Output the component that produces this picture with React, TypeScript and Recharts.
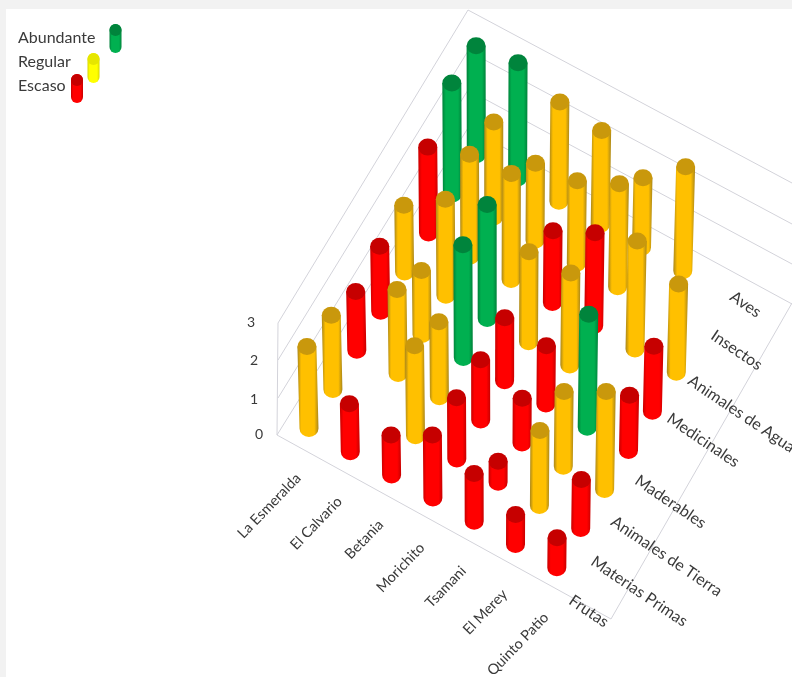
import { ScatterChart, Scatter, XAxis, YAxis, ReferenceLine } from 'recharts';

const WIDTH = 792;
const HEIGHT = 677;

const categories = ['La Esmeralda', 'El Calvario', 'Betania', 'Morichito', 'Tsamani', 'El Merey', 'Quinto Patio'];
const seriesNames = ['Frutas', 'Materias Primas', 'Animales de Tierra', 'Maderables', 'Medicinales', 'Animales de Agua', 'Insectos', 'Aves'];
const valueTicks = ['0', '1', '2', '3'];

// heights per community, null = no column
const frutas = [2.16, 1.26, 1.05, 1.66, 1.26, 0.79, 0.79];
const materiasPrimas = [1.95, null, 2.37, 1.61, 0.55, 1.97, 1.29];
const animalesTierra = [1.55, 2.21, 1.97, 1.58, 1.18, 1.97, 2.58];
const maderables = [1.71, 1.68, 2.97, 1.66, 1.53, 2.97, 1.45];
const medicinales = [1.76, 2.53, 3.0, 2.37, 2.42, null, 1.71];
const animalesAgua = [2.26, 2.68, 2.79, 1.89, 2.45, 2.84, 2.32];
const insectos = [2.92, 2.5, 2.03, 2.18, 2.71, null, null];
const aves = [2.87, 3.03, 2.61, 2.47, 1.84, 2.74, null];
const seriesValues = [frutas, materiasPrimas, animalesTierra, maderables, medicinales, animalesAgua, insectos, aves];

// A = Abundante, R = Regular, E = Escaso
const frutasNivel = ['R', 'E', 'E', 'E', 'E', 'E', 'E'];
const materiasNivel = ['R', '', 'R', 'E', 'E', 'R', 'E'];
const tierraNivel = ['E', 'R', 'R', 'E', 'E', 'R', 'R'];
const maderablesNivel = ['E', 'R', 'A', 'E', 'E', 'A', 'E'];
const medicinalesNivel = ['R', 'R', 'A', 'R', 'R', '', 'E'];
const aguaNivel = ['E', 'R', 'R', 'E', 'E', 'R', 'R'];
const insectosNivel = ['A', 'R', 'R', 'R', 'R', '', ''];
const avesNivel = ['A', 'A', 'R', 'R', 'R', 'R', ''];
const seriesLevels = [frutasNivel, materiasNivel, tierraNivel, maderablesNivel, medicinalesNivel, aguaNivel, insectosNivel, avesNivel];

const legendLabels = ['Abundante', 'Regular', 'Escaso'];

const colors: Record<string, { body: string; edge: string; cap: string }> = {
  A: { body: '#00b050', edge: '#00813a', cap: '#00843c' },
  R: { body: '#ffc000', edge: '#a9861a', cap: '#c9980c' },
  E: { body: '#ff0000', edge: '#c80000', cap: '#c60000' },
  Y: { body: '#ffff00', edge: '#d6d600', cap: '#e6e600' },
};

// oblique floor projection
const ORIGIN = { x: 309, y: 428.5 };
const STEP_CAT = { x: 41.3, y: 23.2 };
const STEP_SER = { x: 23.9, y: -39.1 };
const UNIT = 38;
const RX = 9.5;
const RY = 8.5;

const project = (i: number, j: number) => ({
  x: ORIGIN.x + STEP_CAT.x * i + STEP_SER.x * j,
  y: ORIGIN.y + STEP_CAT.y * i + STEP_SER.y * j,
});

const columns = seriesValues
  .flatMap((vals, j) =>
    vals.map((value, i) => (value == null ? null : { ...project(i, j), value, level: seriesLevels[j][i] })),
  )
  .filter((d) => d !== null)
  .sort((a: any, b: any) => a.y - b.y);

function Cylinder(props: any) {
  const { cx, cy, payload } = props;
  const h = payload.value * UNIT;
  const lean = (cx - 490) * 0.00014 * h;
  const tx = cx + lean;
  const ty = cy - h;
  const c = colors[payload.level];
  const body = `M${tx - RX},${ty} L${cx - RX},${cy} A${RX},${RY} 0 0 0 ${cx + RX},${cy} L${tx + RX},${ty} Z`;
  return (
    <g>
      <path d={body} fill={`url(#grad${payload.level})`} />
      <ellipse cx={tx} cy={ty} rx={RX} ry={RY} fill={c.cap} />
    </g>
  );
}

function SmallCylinder(props: any) {
  const { cx, cy, payload } = props;
  const c = colors[payload.level];
  const r = payload.r;
  const h = payload.h;
  return (
    <g>
      <rect x={cx - r} y={cy - h / 2} width={r * 2} height={h} rx={r} fill={`url(#grad${payload.level})`} />
      <ellipse cx={cx} cy={cy - h / 2 + r} rx={r} ry={r} fill={c.cap} />
    </g>
  );
}

function Label(props: any) {
  const { cx, cy, payload } = props;
  return (
    <text
      x={cx}
      y={cy}
      transform={payload.angle ? `rotate(${payload.angle} ${cx} ${cy})` : undefined}
      textAnchor={payload.anchor}
      dominantBaseline="middle"
      fontFamily="Lato, sans-serif"
      fontSize={payload.size}
      fill="#3a3a3a"
    >
      {payload.text}
    </text>
  );
}

// hand placed in the original, so kept as offsets from the floor row
const seriesLabelStarts = [
  { x: 570, y: 600 },
  { x: 592, y: 561 },
  { x: 612, y: 521 },
  { x: 636, y: 480 },
  { x: 668, y: 418 },
  { x: 689, y: 380 },
  { x: 712, y: 335 },
  { x: 731, y: 296 },
];
const valueLabelPos = [
  { x: 263, y: 435 },
  { x: 258, y: 400 },
  { x: 258, y: 361 },
  { x: 255, y: 323 },
];

const textMarks = [
  ...categories.map((text, i) => {
    const p = project(i, 0);
    return { x: p.x - 10, y: p.y + 48, text, anchor: 'end', angle: -46, size: 14.5 };
  }),
  ...seriesNames.map((text, j) => ({ ...seriesLabelStarts[j], text, anchor: 'start', angle: 34, size: 16 })),
  ...valueTicks.map((text, k) => ({ ...valueLabelPos[k], text, anchor: 'end', angle: 0, size: 14 })),
  { x: 18, y: 39, text: legendLabels[0], anchor: 'start', angle: 0, size: 16 },
  { x: 18, y: 63, text: legendLabels[1], anchor: 'start', angle: 0, size: 16 },
  { x: 18, y: 87, text: legendLabels[2], anchor: 'start', angle: 0, size: 16 },
];

const legendMarks = [
  { x: 115.5, y: 38.5, level: 'A', r: 6, h: 29 },
  { x: 93.5, y: 68, level: 'Y', r: 6, h: 30 },
  { x: 77, y: 88.5, level: 'E', r: 6, h: 29 },
];

// wall and floor frame
const frameLines: [number, number, number, number][] = [
  [278, 323, 468, 10],
  [278, 360, 468, 51],
  [278, 398, 468, 90],
  [277, 435, 468, 128],
  [468, 10, 792, 183],
  [468, 51, 792, 224],
  [468, 90, 792, 264],
  [468, 128, 792, 304],
  [278, 323, 277, 435],
  [277, 435, 611, 619],
  [611, 619, 792, 303],
];

export default function App() {
  return (
    <div style={{ position: 'absolute', left: 0, top: 0, width: WIDTH, height: HEIGHT, background: '#f2f2f2', overflow: 'hidden' }}>
      <div style={{ position: 'absolute', left: 6, top: 9, width: WIDTH, height: HEIGHT, background: '#ffffff' }} />
      <div style={{ position: 'absolute', left: 0, top: 0, filter: 'blur(0.6px)' }}>
        <ScatterChart width={WIDTH} height={HEIGHT} margin={{ top: 0, right: 0, bottom: 0, left: 0 }}>
          <defs>
            {Object.keys(colors).map((k) => (
              <linearGradient key={k} id={`grad${k}`} x1="0" y1="0" x2="1" y2="0">
                <stop offset="0" stopColor={colors[k].edge} />
                <stop offset="0.18" stopColor={colors[k].body} />
                <stop offset="0.8" stopColor={colors[k].body} />
                <stop offset="1" stopColor={colors[k].edge} />
              </linearGradient>
            ))}
          </defs>
          <XAxis type="number" dataKey="x" domain={[0, WIDTH]} hide allowDataOverflow />
          <YAxis type="number" dataKey="y" domain={[0, HEIGHT]} reversed hide allowDataOverflow />
          {frameLines.map(([x1, y1, x2, y2], k) => (
            <ReferenceLine
              key={k}
              segment={[{ x: x1, y: y1 }, { x: x2, y: y2 }]}
              stroke="#d3d3da"
              strokeWidth={1}
            />
          ))}
          <Scatter data={columns as any[]} shape={Cylinder} isAnimationActive={false} />
          <Scatter data={legendMarks} shape={SmallCylinder} isAnimationActive={false} />
          <Scatter data={textMarks} shape={Label} isAnimationActive={false} />
        </ScatterChart>
      </div>
    </div>
  );
}
